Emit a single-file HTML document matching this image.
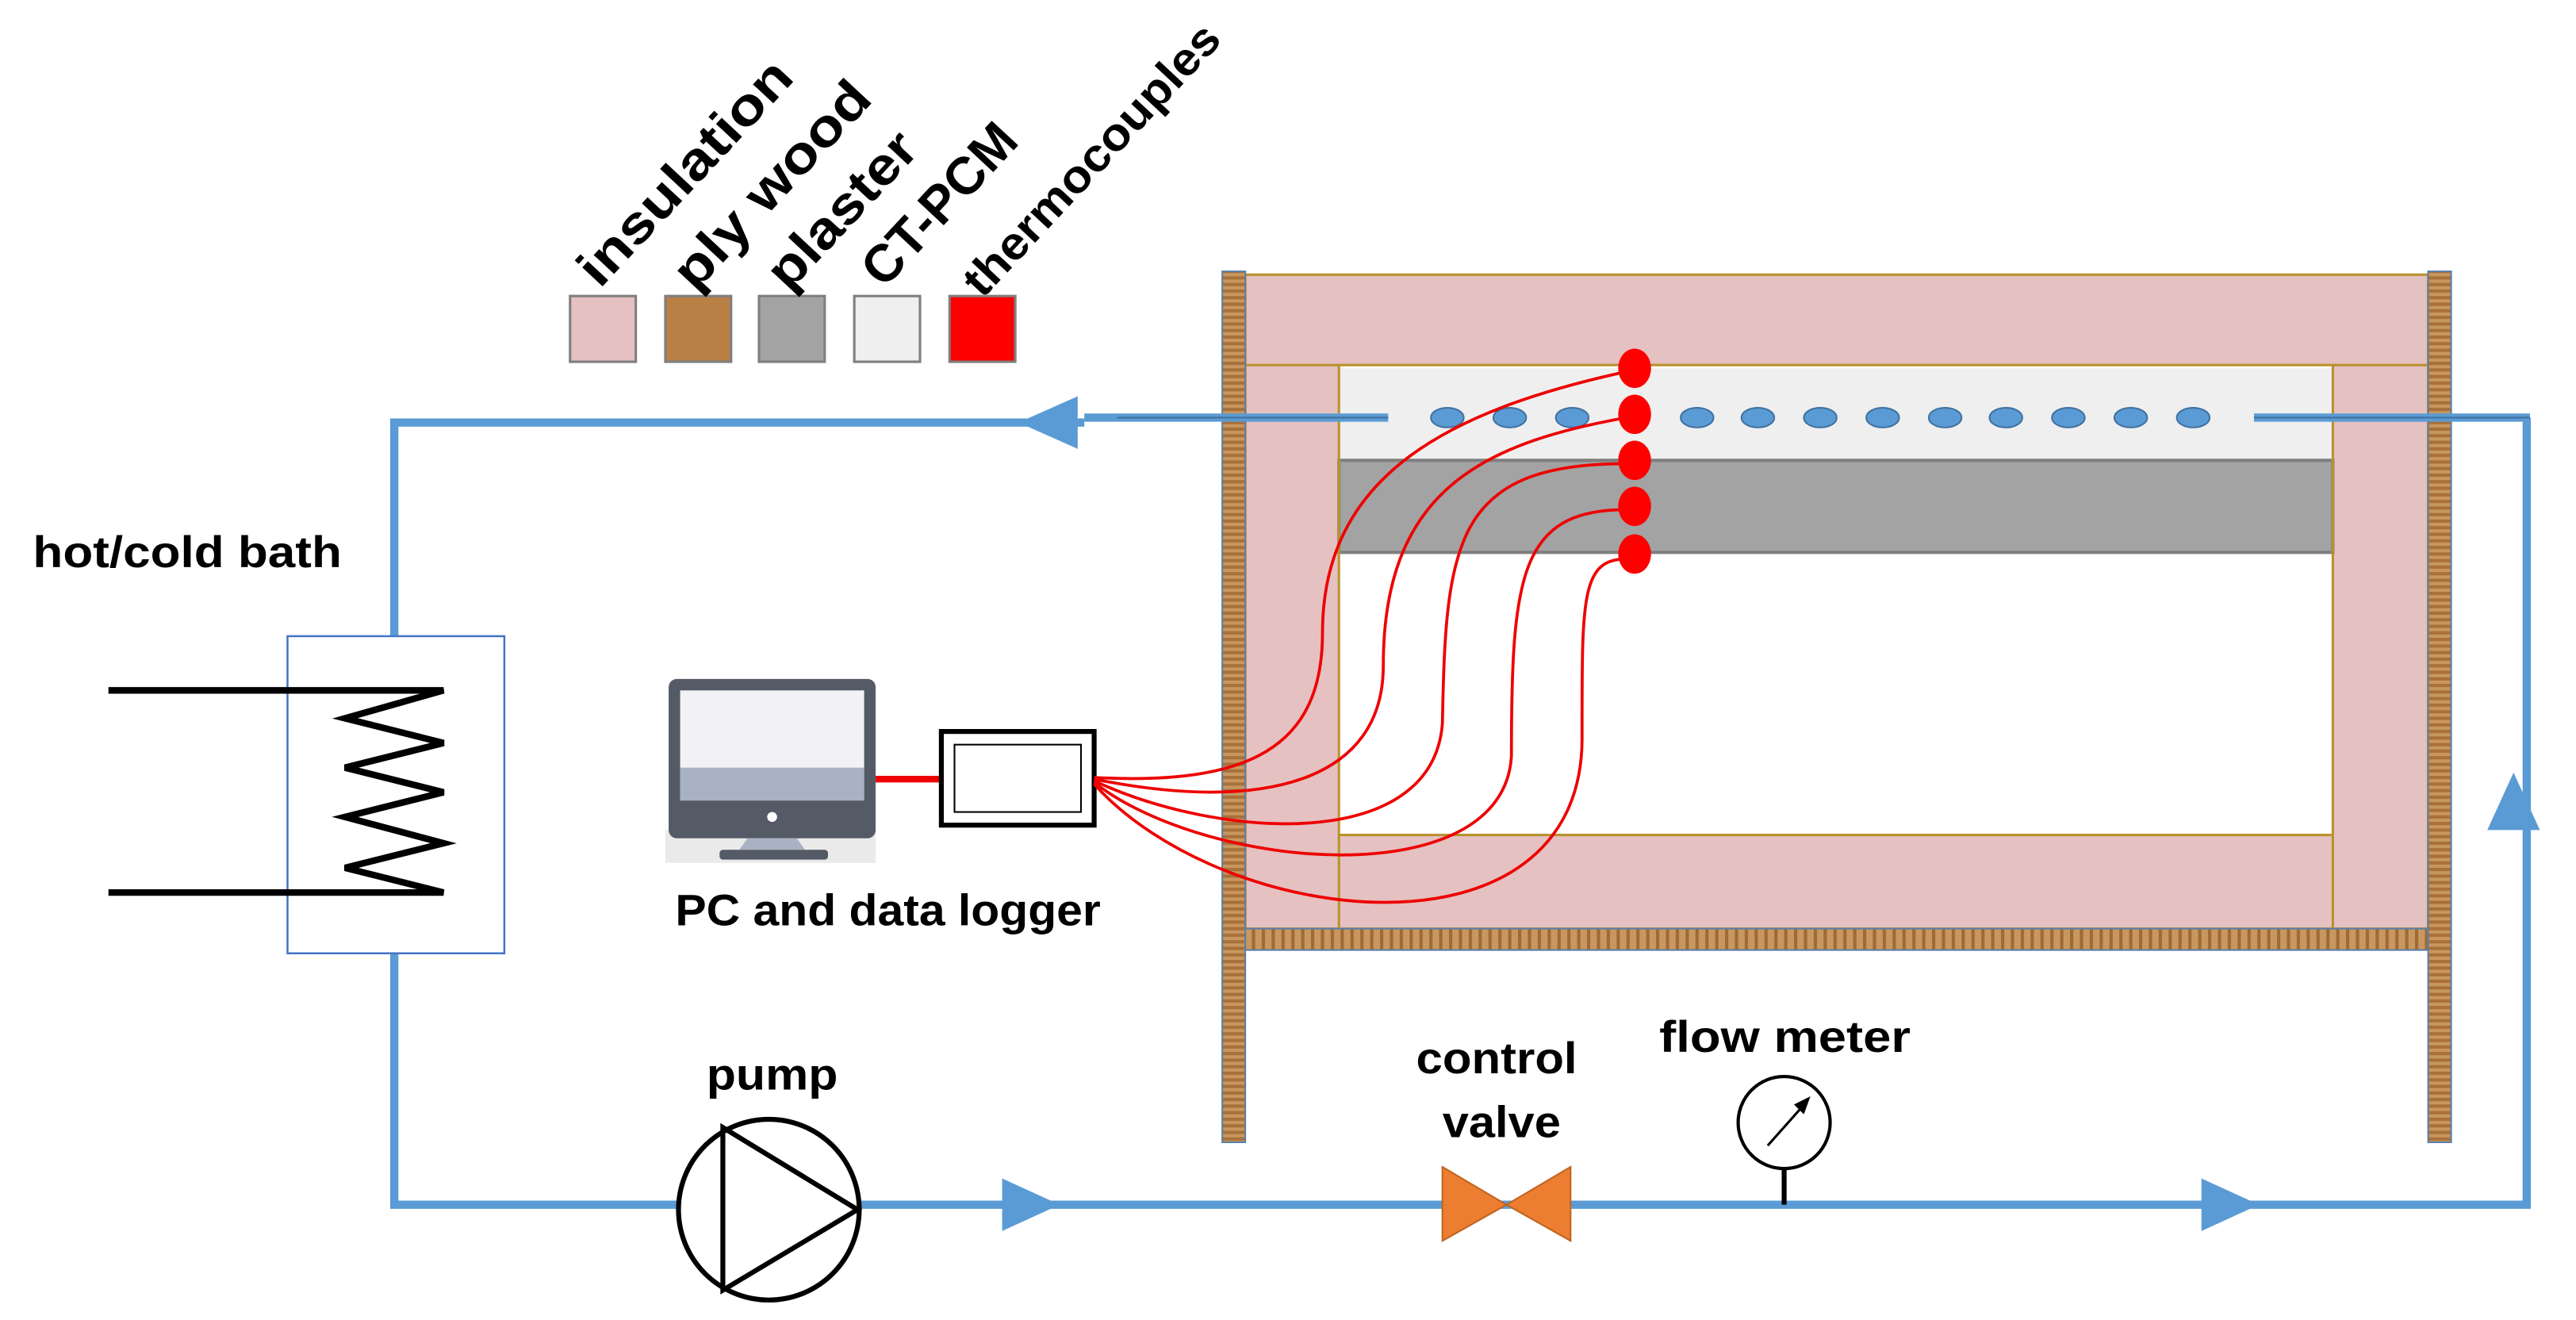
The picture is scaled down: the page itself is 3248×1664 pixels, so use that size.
<!DOCTYPE html>
<html><head><meta charset="utf-8"><style>html,body{margin:0;padding:0;background:#fff}svg{display:block}</style></head>
<body>
<svg width="3248" height="1664" viewBox="0 0 1568 803" xmlns="http://www.w3.org/2000/svg" font-family="'Liberation Sans Narrow','Liberation Sans',sans-serif" font-weight="bold">
<defs>
<pattern id="plyh" width="6" height="4" patternUnits="userSpaceOnUse"><rect width="6" height="4" fill="#c8975f"/><rect x="0" y="0" width="6" height="2" fill="#a8703a"/></pattern>
<pattern id="plyv" width="6" height="4" patternUnits="userSpaceOnUse"><rect width="6" height="4" fill="#c8975f"/><rect x="0" y="0" width="2" height="4" fill="#9e6a36"/></pattern>
</defs>
<rect x="758" y="167" width="720" height="55" fill="#e5c1c1"/>
<rect x="758" y="222" width="57" height="343" fill="#e5c1c1"/>
<rect x="1420" y="222" width="58" height="343" fill="#e5c1c1"/>
<rect x="815" y="508" width="605" height="57" fill="#e5c1c1"/>
<rect x="815" y="224" width="605" height="56" fill="#efefef"/>
<rect x="815" y="280" width="605" height="56" fill="#a3a3a3" stroke="#7f7f7f" stroke-width="2"/>
<g fill="none" stroke="#b8922e" stroke-width="1.5">
<rect x="758" y="167" width="720" height="398"/>
<line x1="758" y1="222" x2="1478" y2="222"/>
<line x1="815" y1="222" x2="815" y2="565"/>
<line x1="1420" y1="222" x2="1420" y2="565"/>
<line x1="815" y1="508" x2="1420" y2="508"/>
</g>
<rect x="744" y="165" width="14" height="530" fill="url(#plyh)" stroke="#5a7fa8" stroke-width="1"/>
<rect x="1478" y="165" width="14" height="530" fill="url(#plyh)" stroke="#5a7fa8" stroke-width="1"/>
<rect x="758" y="565" width="720" height="13" fill="url(#plyv)" stroke="#5a7fa8" stroke-width="1"/>
<g fill="#5b9bd5" stroke="#41729f" stroke-width="1">
<ellipse cx="881" cy="254" rx="10" ry="6"/><ellipse cx="919" cy="254" rx="10" ry="6"/><ellipse cx="957" cy="254" rx="10" ry="6"/>
<ellipse cx="1033" cy="254" rx="10" ry="6"/><ellipse cx="1070" cy="254" rx="10" ry="6"/><ellipse cx="1108" cy="254" rx="10" ry="6"/>
<ellipse cx="1146" cy="254" rx="10" ry="6"/><ellipse cx="1184" cy="254" rx="10" ry="6"/><ellipse cx="1221" cy="254" rx="10" ry="6"/>
<ellipse cx="1259" cy="254" rx="10" ry="6"/><ellipse cx="1297" cy="254" rx="10" ry="6"/><ellipse cx="1335" cy="254" rx="10" ry="6"/>
</g>
<g fill="none" stroke="#5b9bd5" stroke-width="5">
<polyline points="1540,254 1372,254"/>
<polyline points="845,254 660,254"/>
<polyline points="660,257 240,257 240,387"/>
<polyline points="240,580 240,733 1538,733 1538,254"/>
</g>
<line x1="1372" y1="254" x2="1540" y2="254" stroke="#41729f" stroke-width="1"/>
<line x1="680" y1="254" x2="845" y2="254" stroke="#41729f" stroke-width="1"/>
<g fill="#5b9bd5">
<polygon points="620,257 656,241 656,273"/>
<polygon points="645,733 610,717 610,749"/>
<polygon points="1375,733 1340,717 1340,749"/>
<polygon points="1530,470 1514,505 1546,505"/>
</g>
<rect x="175" y="387" width="132" height="193" fill="none" stroke="#4472c4" stroke-width="1.2"/>
<polyline points="66,420 270,420 210,437 270,452 210,467 270,482 210,497 270,513 210,528 270,543 66,543" fill="none" stroke="#000" stroke-width="4" stroke-linejoin="miter"/>
<text x="20" y="345" font-size="27" textLength="188" lengthAdjust="spacingAndGlyphs">hot/cold bath</text>
<circle cx="468" cy="736" r="55" fill="#fff" stroke="#000" stroke-width="3"/>
<polygon points="440,686 440,785 522,736" fill="none" stroke="#000" stroke-width="3"/>
<text x="430" y="663" font-size="27" textLength="80" lengthAdjust="spacingAndGlyphs">pump</text>
<polygon points="878,710 917,733 878,755" fill="#ed7d31" stroke="#c0641f"/>
<polygon points="956,710 917,733 956,755" fill="#ed7d31" stroke="#c0641f"/>
<text x="862" y="653" font-size="27" textLength="98" lengthAdjust="spacingAndGlyphs">control</text>
<text x="878" y="692" font-size="27" textLength="72" lengthAdjust="spacingAndGlyphs">valve</text>
<line x1="1086" y1="711" x2="1086" y2="733" stroke="#000" stroke-width="3"/>
<circle cx="1086" cy="683" r="28" fill="#fff" stroke="#000" stroke-width="2"/>
<line x1="1076" y1="697" x2="1100" y2="670" stroke="#000" stroke-width="1.5"/>
<polygon points="1102,667 1092,672 1098,678" fill="#000"/>
<text x="1010" y="640" font-size="27" textLength="153" lengthAdjust="spacingAndGlyphs">flow meter</text>
<rect x="405" y="505" width="128" height="20" fill="#eaeaea"/>
<rect x="407" y="413" width="126" height="97" rx="5" fill="#555b66"/>
<rect x="414" y="420" width="112" height="67" fill="#f2f2f4"/>
<rect x="414" y="467" width="112" height="20" fill="#a8b2c4"/>
<circle cx="470" cy="497" r="3" fill="#fff"/>
<polygon points="455,510 485,510 490,517 450,517" fill="#a8b2c4"/>
<rect x="438" y="517" width="66" height="6" rx="2" fill="#555b66"/>
<line x1="533" y1="474" x2="572" y2="474" stroke="#e00" stroke-width="4"/>
<rect x="573" y="445" width="93" height="57" fill="#fff" stroke="#000" stroke-width="3"/>
<rect x="581" y="453" width="77" height="41" fill="none" stroke="#000" stroke-width="1"/>
<text x="411" y="563" font-size="27" textLength="259" lengthAdjust="spacingAndGlyphs">PC and data logger</text>
<g fill="none" stroke="#e00" stroke-width="1.8">
<path d="M666,473 C760,478 805,455 805,385 C805,290 880,250 990,226"/>
<path d="M666,474 C770,495 842,475 842,405 C842,300 900,270 990,254"/>
<path d="M666,475 C740,510 872,520 878,440 C880,330 885,282 990,282"/>
<path d="M666,476 C735,530 915,545 920,460 C920,350 925,310 990,310"/>
<path d="M666,477 C745,565 962,590 963,450 C963,365 962,340 990,340"/>
</g>
<g fill="#f00"><ellipse cx="995" cy="224" rx="10" ry="12"/><ellipse cx="995" cy="252" rx="10" ry="12"/><ellipse cx="995" cy="280" rx="10" ry="12"/><ellipse cx="995" cy="308" rx="10" ry="12"/><ellipse cx="995" cy="337" rx="10" ry="12"/></g>
<g stroke="#7f7f7f" stroke-width="1.5">
<rect x="347" y="180" width="40" height="40" fill="#e5c1c1"/>
<rect x="405" y="180" width="40" height="40" fill="#b97f45"/>
<rect x="462" y="180" width="40" height="40" fill="#a3a3a3"/>
<rect x="520" y="180" width="40" height="40" fill="#efefef"/>
<rect x="578" y="180" width="40" height="40" fill="#f00"/>
</g>
<g font-size="32">
<text transform="translate(365,176) rotate(-47)" textLength="175" lengthAdjust="spacingAndGlyphs">insulation</text>
<text transform="translate(423,178) rotate(-47)" textLength="160" lengthAdjust="spacingAndGlyphs">ply wood</text>
<text transform="translate(480,178) rotate(-47)" textLength="118" lengthAdjust="spacingAndGlyphs">plaster</text>
<text transform="translate(538,176) rotate(-47)" textLength="122" lengthAdjust="spacingAndGlyphs">CT-PCM</text>
<text transform="translate(598,182) rotate(-47)" font-size="28" textLength="215" lengthAdjust="spacingAndGlyphs">thermocouples</text>
</g>
</svg>
</body></html>
